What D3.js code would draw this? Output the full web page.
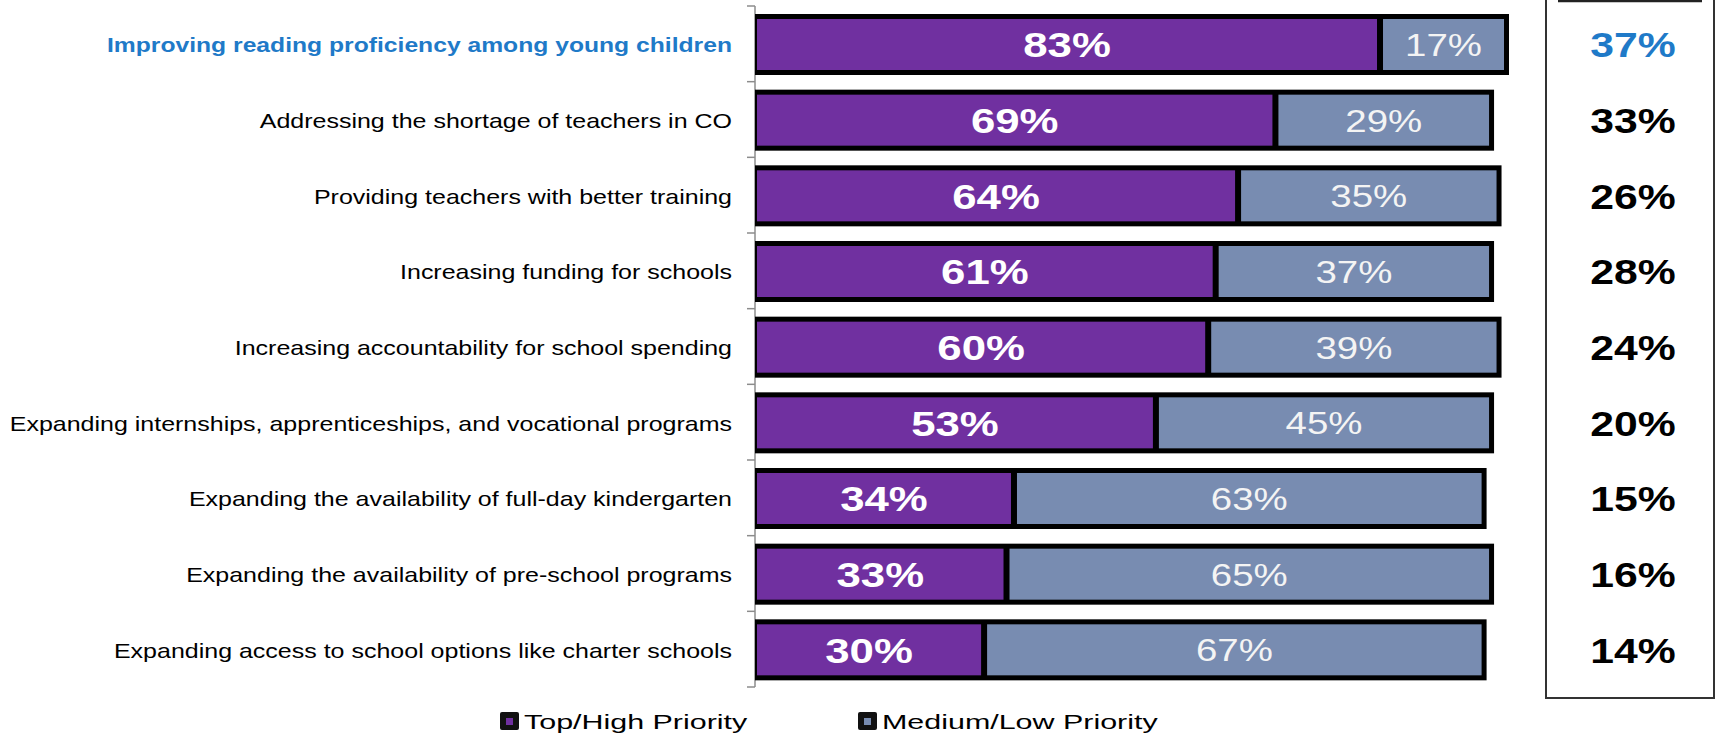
<!DOCTYPE html>
<html><head><meta charset="utf-8">
<script src="https://cdn.jsdelivr.net/npm/d3@7/dist/d3.min.js"></script>
<style>html,body{margin:0;padding:0;background:#fff;}svg{display:block;}</style>
</head><body>
<svg id="c" width="1718" height="735"></svg>
<script>
const categories = [
  "Improving reading proficiency among young children",
  "Addressing the shortage of teachers in CO",
  "Providing teachers with better training",
  "Increasing funding for schools",
  "Increasing accountability for school spending",
  "Expanding internships, apprenticeships, and vocational programs",
  "Expanding the availability of full-day kindergarten",
  "Expanding the availability of pre-school programs",
  "Expanding access to school options like charter schools"
];
const topHigh   = [83, 69, 64, 61, 60, 53, 34, 33, 30];
const mediumLow = [17, 29, 35, 37, 39, 45, 63, 65, 67];
const sideValues = [37, 33, 26, 28, 24, 20, 15, 16, 14];
const seriesNames = ["Top/High Priority", "Medium/Low Priority"];

const PURPLE = "#7030A0", GREY = "#788CB1", BLUE = "#1F7AC8";
const svg = d3.select("#c");
const x = d3.scaleLinear().domain([0, 100]).range([757, 1504]);
const y = d3.scaleBand().domain(categories).range([6, 687]).paddingInner(0).paddingOuter(0);
const bw = y.bandwidth();
const barTop = d => y(d) + 8, barH = 61, inset = 5;

// axis
const axisG = svg.append("g").attr("transform", "translate(755,0)");
axisG.append("line").attr("x1", 0).attr("x2", 0).attr("y1", 6).attr("y2", 687).attr("stroke", "#8c8c8c").attr("stroke-width", 1.5);
const bounds = categories.map(c => y(c)).concat([y(categories[categories.length - 1]) + bw]);
axisG.selectAll("line.tick").data(bounds).join("line").attr("class", "tick")
  .attr("x1", -8).attr("x2", 0).attr("y1", d => d).attr("y2", d => d)
  .attr("stroke", "#8c8c8c").attr("stroke-width", 1.5);

const rows = categories.map((c, i) => ({c, i, a: topHigh[i], b: mediumLow[i], s: sideValues[i]}));

// outer black boxes
svg.append("g").selectAll("rect").data(rows).join("rect")
  .attr("x", 755).attr("y", d => barTop(d.c))
  .attr("width", d => x(d.a + d.b) + 5 - 755).attr("height", barH).attr("fill", "#000");
// purple
svg.append("g").selectAll("rect").data(rows).join("rect")
  .attr("x", x(0)).attr("y", d => barTop(d.c) + inset)
  .attr("width", d => x(d.a) - x(0)).attr("height", barH - 2 * inset).attr("fill", PURPLE);
// grey
svg.append("g").selectAll("rect").data(rows).join("rect")
  .attr("x", d => x(d.a) + 6).attr("y", d => barTop(d.c) + inset)
  .attr("width", d => x(d.a + d.b) - x(d.a) - 6).attr("height", barH - 2 * inset).attr("fill", GREY);

const font = "'Liberation Sans', Arial, sans-serif";
function stretchedText(g, data, opts) {
  return g.selectAll("text").data(data).join("text")
    .attr("transform", d => `translate(${opts.x(d)},${opts.y(d)}) scale(${typeof opts.sx === "function" ? opts.sx(d) : opts.sx},1)`)
    .attr("text-anchor", opts.anchor).attr("dy", "0.36em")
    .style("font-family", font).style("font-size", opts.size + "px")
    .style("font-weight", opts.weight).attr("fill", opts.fill)
    .text(opts.text);
}
const cy = d => y(d.c) + bw / 2 + 1;

// bar labels
stretchedText(svg.append("g"), rows, {x: d => (x(0) + x(d.a)) / 2, y: cy, sx: 1.25, anchor: "middle",
  size: 35, weight: "bold", fill: "#fff", text: d => d.a + "%"});
stretchedText(svg.append("g"), rows, {x: d => (x(d.a) + 6 + x(d.a + d.b)) / 2, y: cy, sx: 1.24, anchor: "middle",
  size: 31, weight: "normal", fill: "#f4f4f4", text: d => d.b + "%"});

// category labels
stretchedText(svg.append("g"), rows, {x: () => 732, y: cy, sx: d => d.i === 0 ? 1.175 : 1.19, anchor: "end",
  size: 21, weight: d => d.i === 0 ? "bold" : "normal", fill: d => d.i === 0 ? BLUE : "#000", text: d => d.c});

// side box
svg.append("rect").attr("x", 1546).attr("y", -5).attr("width", 168).attr("height", 703)
  .attr("fill", "none").attr("stroke", "#333").attr("stroke-width", 2);
svg.append("line").attr("x1", 1558).attr("x2", 1702).attr("y1", 1).attr("y2", 1).attr("stroke", "#222").attr("stroke-width", 2.5);
stretchedText(svg.append("g"), rows, {x: () => 1633, y: cy, sx: 1.22, anchor: "middle",
  size: 35, weight: "bold", fill: d => d.i === 0 ? BLUE : "#000", text: d => d.s + "%"});

// legend
const legendX = [500, 858], legendColors = [PURPLE, GREY];
const lg = svg.append("g").selectAll("g").data(seriesNames).join("g")
  .attr("transform", (d, i) => `translate(${legendX[i]},721)`);
lg.append("rect").attr("x", 0).attr("y", -9).attr("width", 19).attr("height", 18).attr("rx", 2).attr("fill", "#111");
lg.append("rect").attr("x", 6).attr("y", -3).attr("width", 7).attr("height", 7).attr("fill", (d, i) => legendColors[i]);
lg.append("text").attr("transform", "translate(24,0) scale(1.45,1)").attr("dy", "0.36em")
  .style("font-family", font).style("font-size", "21px").attr("fill", "#000").text(d => d);
</script>
</body></html>
